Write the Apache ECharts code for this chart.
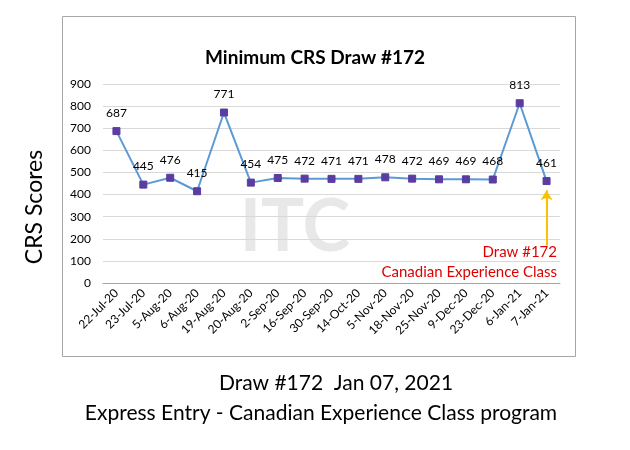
<!DOCTYPE html>
<html><head><meta charset="utf-8">
<script src="https://cdn.jsdelivr.net/npm/echarts@6/dist/echarts.min.js"></script>
<style>html,body{margin:0;padding:0;background:#fff}#c{width:630px;height:450px}</style>
</head><body><div id="c"></div>
<script>
const categories = ['22-Jul-20','23-Jul-20','5-Aug-20','6-Aug-20','19-Aug-20','20-Aug-20','2-Sep-20','16-Sep-20','30-Sep-20','14-Oct-20','5-Nov-20','18-Nov-20','25-Nov-20','9-Dec-20','23-Dec-20','6-Jan-21','7-Jan-21'];
const scores = [687,445,476,415,771,454,475,472,471,471,478,472,469,469,468,813,461];
const yTicks = {min:0, max:900, interval:100};

const F = 'Lato, "Open Sans", sans-serif';
const chart = echarts.init(document.getElementById('c'));
chart.setOption({
  animation:false,
  title:{text:'Minimum CRS Draw #172', left:'center', top:43,
    textStyle:{fontFamily:F, fontSize:19, fontWeight:'bold', color:'#000'}},
  grid:{left:103, right:70, top:84, bottom:167, containLabel:false},
  xAxis:{type:'category', data:categories, boundaryGap:true,
    axisLine:{lineStyle:{color:'#a6a6a6'}}, axisTick:{show:false},
    axisLabel:{rotate:45, interval:0, fontFamily:F, fontSize:12, color:'#000', margin:8}},
  yAxis:{type:'value', min:yTicks.min, max:yTicks.max, interval:yTicks.interval,
    axisLine:{show:false}, axisTick:{show:false},
    splitLine:{lineStyle:{color:'#d9d9d9'}},
    axisLabel:{fontFamily:F, fontSize:12, color:'#000', margin:12}},
  series:[{type:'line', data:scores, symbol:'rect', symbolSize:7,
    lineStyle:{color:'#5b9bd5', width:2},
    itemStyle:{color:'#5b3ca0', borderColor:'#5b3ca0'},
    label:{show:true, position:'top', distance:8, fontFamily:F, fontSize:12, color:'#000'},
    markLine:{silent:true, symbol:['none','arrow'], symbolSize:[9,10],
      lineStyle:{color:'#ffc000', width:2, type:'solid'}, label:{show:false},
      data:[[{coord:['7-Jan-21',170]},{coord:['7-Jan-21',420]}]]}
  }],
  graphic:[
    {type:'rect', shape:{x:62.5, y:16.5, width:513, height:340}, style:{fill:'none', stroke:'#a6a6a6', lineWidth:1}, z:-1},
    {type:'text', x:295, y:228, z:-1, style:{text:'ITC', font:'bold 72px '+F, fill:'rgba(190,190,190,0.35)', align:'center', verticalAlign:'middle'}},
    {type:'text', x:557, y:252, style:{text:'Draw #172', font:'15px '+F, fill:'#e00000', align:'right', verticalAlign:'middle'}},
    {type:'text', x:557, y:272, style:{text:'Canadian Experience Class', font:'15px '+F, fill:'#e00000', align:'right', verticalAlign:'middle'}},
    {type:'text', x:35, y:207, rotation:Math.PI/2, style:{text:'CRS Scores', font:'23px '+F, fill:'#000', align:'center', verticalAlign:'middle'}},
    {type:'text', x:336, y:383, style:{text:'Draw #172  Jan 07, 2021', font:'21px '+F, fill:'#000', align:'center', verticalAlign:'middle'}},
    {type:'text', x:321, y:413, style:{text:'Express Entry - Canadian Experience Class program', font:'21px '+F, fill:'#000', align:'center', verticalAlign:'middle'}}
  ]
});
</script></body></html>
